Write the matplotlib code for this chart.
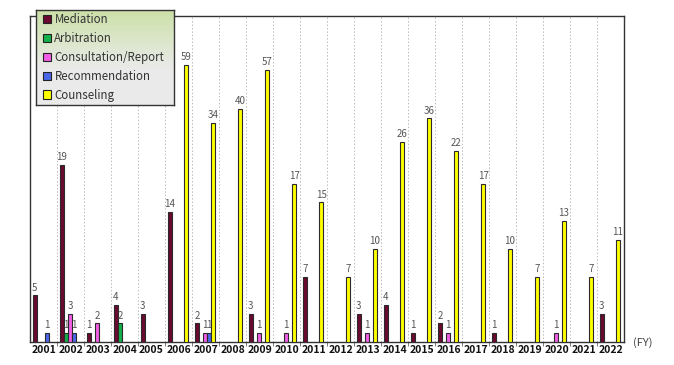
""" Dispute handling cases by fiscal year """
import numpy as np
import matplotlib
matplotlib.use('Agg')
import matplotlib.pyplot as plt
from matplotlib.patches import Patch

plt.rcParams['font.family'] = ['Noto Sans CJK JP', 'DejaVu Sans']

years = [str(y) for y in range(2001, 2023)]
mediation = [5, 19, 1, 4, 3, 14, 2, 0, 3, 0, 7, 0, 3, 4, 1, 2, 0, 1, 0, 0, 0, 3]
arbitration = [0, 1, 0, 2, 0, 0, 0, 0, 0, 0, 0, 0, 0, 0, 0, 0, 0, 0, 0, 0, 0, 0]
consultation = [0, 3, 2, 0, 0, 0, 1, 0, 1, 1, 0, 0, 1, 0, 0, 1, 0, 0, 0, 1, 0, 0]
recommendation = [1, 1, 0, 0, 0, 0, 1, 0, 0, 0, 0, 0, 0, 0, 0, 0, 0, 0, 0, 0, 0, 0]
counseling = [0, 0, 0, 0, 0, 59, 34, 40, 57, 17, 15, 7, 10, 26, 36, 22, 17, 10, 7, 13, 7, 11]

series = [
    ('Mediation', mediation, '#6a0a30'),
    ('Arbitration', arbitration, '#14b04c'),
    ('Consultation/Report', consultation, '#f25ee6'),
    ('Recommendation', recommendation, '#4a66e8'),
    ('Counseling', counseling, '#ffff00'),
]


# axis is compressed above 20 (factor 4)
def fwd(v):
    v = np.asarray(v, dtype=float)
    return np.where(v <= 20, v, 20 + (v - 20) / 4.0)


def inv(v):
    v = np.asarray(v, dtype=float)
    return np.where(v <= 20, v, 20 + (v - 20) * 4.0)


fig = plt.figure(figsize=(6.74, 3.65), dpi=100)
ax = fig.add_axes([30 / 674, 23 / 365, 594 / 674, 326 / 365])
ax.set_yscale('function', functions=(fwd, inv))

x = np.arange(len(years))
width = 0.15
for i, (name, vals, col) in enumerate(series):
    pos = x + (i - 2) * width - 0.02
    vals = np.array(vals)
    mask = vals > 0
    bars = ax.bar(pos[mask], vals[mask], width * 0.92, color=col,
                  edgecolor='#2a2a2a', linewidth=0.8, zorder=3)
    for b, v in zip(bars, vals[mask]):
        ax.annotate(str(v), (b.get_x() + b.get_width() / 2, v),
                    xytext=(0, 2), textcoords='offset points',
                    ha='center', va='bottom', fontsize=7, color='#555555')

ax.set_xlim(-0.5, len(years) - 0.5)
ax.set_ylim(0, 80)
ax.set_yticks([])
ax.minorticks_off()
ax.set_xticks(x)
ax.set_xticklabels(years, fontsize=7.5, fontweight='bold', color='#111111')
ax.tick_params(axis='x', length=0, pad=2)
ax.set_xticks(np.arange(0.5, len(years) - 0.5), minor=True)
ax.tick_params(axis='x', which='minor', length=3, color='#666666')
for b in np.arange(0.5, len(years) - 0.5):
    ax.axvline(b, color='#bbbbbb', linestyle=(0, (1.5, 2)), linewidth=0.7, zorder=1)
for s in ax.spines.values():
    s.set_color('#333333')
    s.set_linewidth(1.0)

fig.text(633 / 674, 1 - 343 / 365, '(FY)', fontsize=8, color='#444444',
         ha='left', va='center')

# legend box with gradient background
lax = fig.add_axes([36 / 674, 1 - 105 / 365, 138 / 674, 95 / 365])
grad = np.linspace(0, 1, 100).reshape(-1, 1)
top = np.array([0.80, 0.88, 0.66])
bot = np.array([0.92, 0.92, 0.92])
mix = np.clip(grad * 1.6, 0, 1)
img = top * (1 - mix)[:, :, None] + bot * mix[:, :, None]
lax.imshow(img, aspect='auto', extent=(0, 1, 0, 1))
lax.set_xticks([])
lax.set_yticks([])
for s in lax.spines.values():
    s.set_color('#333333')
    s.set_linewidth(1.0)
handles = [Patch(facecolor=c, edgecolor='#222222', linewidth=0.8, label=n)
           for n, _, c in series]
lax.legend(handles=handles, loc='center left', frameon=False, fontsize=8.3,
           handlelength=0.7, handleheight=0.7, handletextpad=0.3,
           labelspacing=0.5, borderaxespad=0.2, labelcolor='#333333')

fig.savefig('out.png', dpi=100)
